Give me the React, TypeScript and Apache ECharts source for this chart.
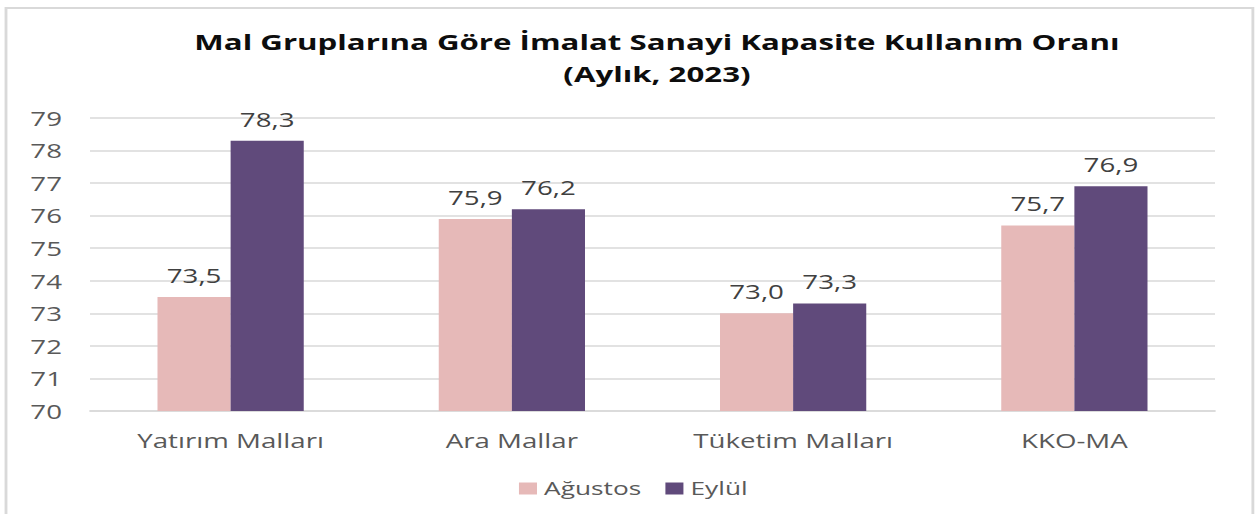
import React, { useEffect, useRef } from "react";
import * as echarts from "echarts";

const categories = ["Yatırım Malları", "Ara Mallar", "Tüketim Malları", "KKO-MA"];
const agustos = [73.5, 75.9, 73.0, 75.7];
const eylul = [78.3, 76.2, 73.3, 76.9];
const seriesNames = ["Ağustos", "Eylül"];
const titleLines = ["Mal Gruplarına Göre İmalat Sanayi Kapasite Kullanım Oranı", "(Aylık, 2023)"];

const FONT = "'Open Sans', 'Noto Sans', sans-serif";
const PAGE_W = 1258;
const PAGE_H = 514;
const STRETCH = 1.42; // the reference is drawn horizontally stretched
const W = Math.round(PAGE_W / STRETCH);
const sx = (x: number) => x / STRETCH;

export default function App() {
  const ref = useRef<HTMLDivElement>(null);
  useEffect(() => {
    if (!ref.current) return;
    const chart = echarts.init(ref.current, undefined, { renderer: "svg" });
    const label = {
      show: true,
      position: "top",
      distance: 12,
      color: "#404040",
      fontSize: 19.5,
      fontFamily: FONT,
      formatter: (p: any) => p.value.toFixed(1).replace(".", ","),
    };
    chart.setOption({
      animation: false,
      backgroundColor: "#fff",
      title: {
        text: titleLines.join("\n"),
        left: sx(657) - 5,
        textAlign: "center",
        top: 20,
        textStyle: {
          fontFamily: FONT,
          fontWeight: "bold",
          fontSize: 22,
          color: "#0d0d0d",
          lineHeight: 32,
        },
      },
      graphic: [
        {
          type: "rect",
          shape: { x: sx(6), y: 8, width: sx(1247), height: 530 },
          style: { fill: "none", stroke: "#d9d9d9", lineWidth: 2 },
          silent: true,
        },
      ],
      grid: { left: sx(90), right: sx(43), top: 118, bottom: 103 },
      legend: {
        top: 474,
        left: sx(519) - 5,
        itemWidth: 12.7,
        itemHeight: 12,
        itemGap: 17,
        icon: "rect",
        textStyle: { fontFamily: FONT, fontSize: 18.5, color: "#595959" },
        data: seriesNames,
      },
      xAxis: {
        type: "category",
        data: categories,
        axisLine: { lineStyle: { color: "#d9d9d9", width: 1.5 } },
        axisTick: { show: false },
        axisLabel: { fontFamily: FONT, fontSize: 19.5, color: "#595959", margin: 19 },
      },
      yAxis: {
        type: "value",
        min: 70,
        max: 79,
        interval: 1,
        axisLine: { show: false },
        axisTick: { show: false },
        splitLine: { lineStyle: { color: "#d9d9d9", width: 1.5 } },
        axisLabel: { fontFamily: FONT, fontSize: 19.5, color: "#595959", margin: sx(28) },
      },
      series: [
        {
          name: seriesNames[0],
          type: "bar",
          data: agustos,
          itemStyle: { color: "#E6B9B8" },
          barGap: "0%",
          barCategoryGap: "48%",
          label,
        },
        {
          name: seriesNames[1],
          type: "bar",
          data: eylul,
          itemStyle: { color: "#604A7B" },
          barGap: "0%",
          barCategoryGap: "48%",
          label,
        },
      ],
    });
    return () => chart.dispose();
  }, []);
  return (
    <div
      ref={ref}
      style={{
        position: "fixed",
        left: 0,
        top: 0,
        width: W,
        height: PAGE_H,
        transform: `scaleX(${PAGE_W / W})`,
        transformOrigin: "0 0",
      }}
    />
  );
}
